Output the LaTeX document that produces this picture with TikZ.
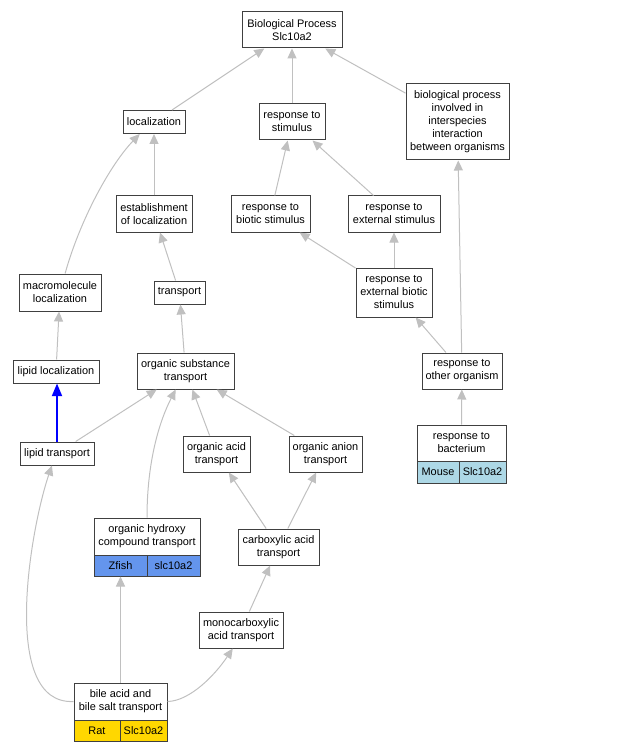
\documentclass[tikz,border=0pt]{standalone}
\usepackage{fontspec}
\setmainfont{Liberation Sans}
\usetikzlibrary{arrows.meta}
\definecolor{edgegray}{HTML}{C0C0C0}
\definecolor{zfishblue}{HTML}{6495ED}
\definecolor{mouseblue}{HTML}{ADD8E6}
\definecolor{ratgold}{HTML}{FFD700}
\begin{document}
\begin{tikzpicture}[x=0.75pt,y=-0.75pt,
    term/.style 2 args={draw=black!75, line width=0.75pt, fill=white, align=center, inner sep=0pt,
        font=\fontsize{8.2}{9.75}\selectfont, minimum width=#1*0.75pt, minimum height=#2*0.75pt},
    isa/.style={draw=edgegray, line width=0.75pt, -{Triangle[length=7.5pt,width=6.8pt]}},
    lipid/.style={draw=blue, line width=1.5pt, -{Triangle[length=9.5pt,width=7.5pt]}}]
    \useasboundingbox (0,0) rectangle (624,752);
    % terms
    \node[term={100}{36}] (bp) at (292,30) {Biological Process\\Slc10a2};
    \node[term={62}{23}] (loc) at (154,122) {localization};
    \node[term={66}{36}] (stim) at (292,122) {response to\\stimulus};
    \node[term={103}{76}] (inter) at (457.5,122) {biological process\\involved in\\interspecies\\interaction\\between organisms};
    \node[term={76}{36}] (estab) at (154,214) {establishment\\of localization};
    \node[term={79}{36}] (biotic) at (270.5,214) {response to\\biotic stimulus};
    \node[term={92}{36}] (ext) at (394,214) {response to\\external stimulus};
    \node[term={82}{37}] (macro) at (60,292.5) {macromolecule\\localization};
    \node[term={51}{23}] (transport) at (179.5,292.5) {transport};
    \node[term={76}{49}] (extbio) at (394,292.5) {response to\\external biotic\\stimulus};
    \node[term={86}{23}] (lipidloc) at (56,371.5) {lipid localization};
    \node[term={97}{36}] (orgsub) at (185.5,371) {organic substance\\transport};
    \node[term={80}{36}] (other) at (462,371) {response to\\other organism};
    \node[term={74}{23}] (lipidtr) at (57,453.5) {lipid transport};
    \node[term={67}{36}] (orgacid) at (216.5,454) {organic acid\\transport};
    \node[term={73}{36}] (anion) at (325.5,454) {organic anion\\transport};
    \node[term={81}{36}] (carbox) at (278.5,547) {carboxylic acid\\transport};
    \node[term={84}{36}] (mono) at (241,630) {monocarboxylic\\acid transport};
    % terms with gene rows
    \node[term={89}{36}] (bact) at (461.5,443) {response to\\bacterium};
    \node[term={42}{22}, fill=mouseblue] (bactM) at (438,472) {Mouse};
    \node[term={47}{22}, fill=mouseblue] (bactG) at (482.5,472) {Slc10a2};
    \node[term={106}{37}] (hydroxy) at (147,536.5) {organic hydroxy\\compound transport};
    \node[term={53}{21}, fill=zfishblue] (hydroxyZ) at (120.5,565.5) {Zfish};
    \node[term={53}{21}, fill=zfishblue] (hydroxyG) at (173.5,565.5) {slc10a2};
    \node[term={93}{37}] (bile) at (120.5,701.5) {bile acid and\\bile salt transport};
    \node[term={46}{21}, fill=ratgold] (bileR) at (97,730.5) {Rat};
    \node[term={47}{21}, fill=ratgold] (bileG) at (143.5,730.5) {Slc10a2};
    % is_a edges
    \draw[isa] (loc) -- (bp);
    \draw[isa] (stim) -- (bp);
    \draw[isa] (inter) -- (bp);
    \draw[isa] (estab) -- (loc);
    \draw[isa] (macro.75) .. controls (80,220) and (110,165) .. (loc.-140);
    \draw[isa] (biotic) -- (stim);
    \draw[isa] (ext) -- (stim);
    \draw[isa] (extbio) -- (biotic);
    \draw[isa] (extbio) -- (ext);
    \draw[isa] (transport) -- (estab);
    \draw[isa] (lipidloc) -- (macro);
    \draw[isa] (orgsub) -- (transport);
    \draw[isa] (other) -- (extbio);
    \draw[isa] (other) -- (inter);
    \draw[lipid] (lipidtr.north) -- (lipidtr.north |- lipidloc.south);
    \draw[isa] (lipidtr) -- (orgsub);
    \draw[isa] (hydroxy.north) .. controls (147,460) and (160,420) .. (orgsub.-118);
    \draw[isa] (orgacid) -- (orgsub);
    \draw[isa] (anion) -- (orgsub);
    \draw[isa] (bact.north) -- (other);
    \draw[isa] (carbox) -- (orgacid);
    \draw[isa] (carbox) -- (anion);
    \draw[isa] (mono) -- (carbox);
    \draw[isa] (bile.north) -- (bile.north |- hydroxyZ.south);
    \draw[isa] (bile.east) .. controls (190,701) and (215,675) .. (mono.-114);
    \draw[isa] (bile.west) .. controls (0,705) and (30,530) .. (lipidtr.-113);
\end{tikzpicture}
\end{document}
